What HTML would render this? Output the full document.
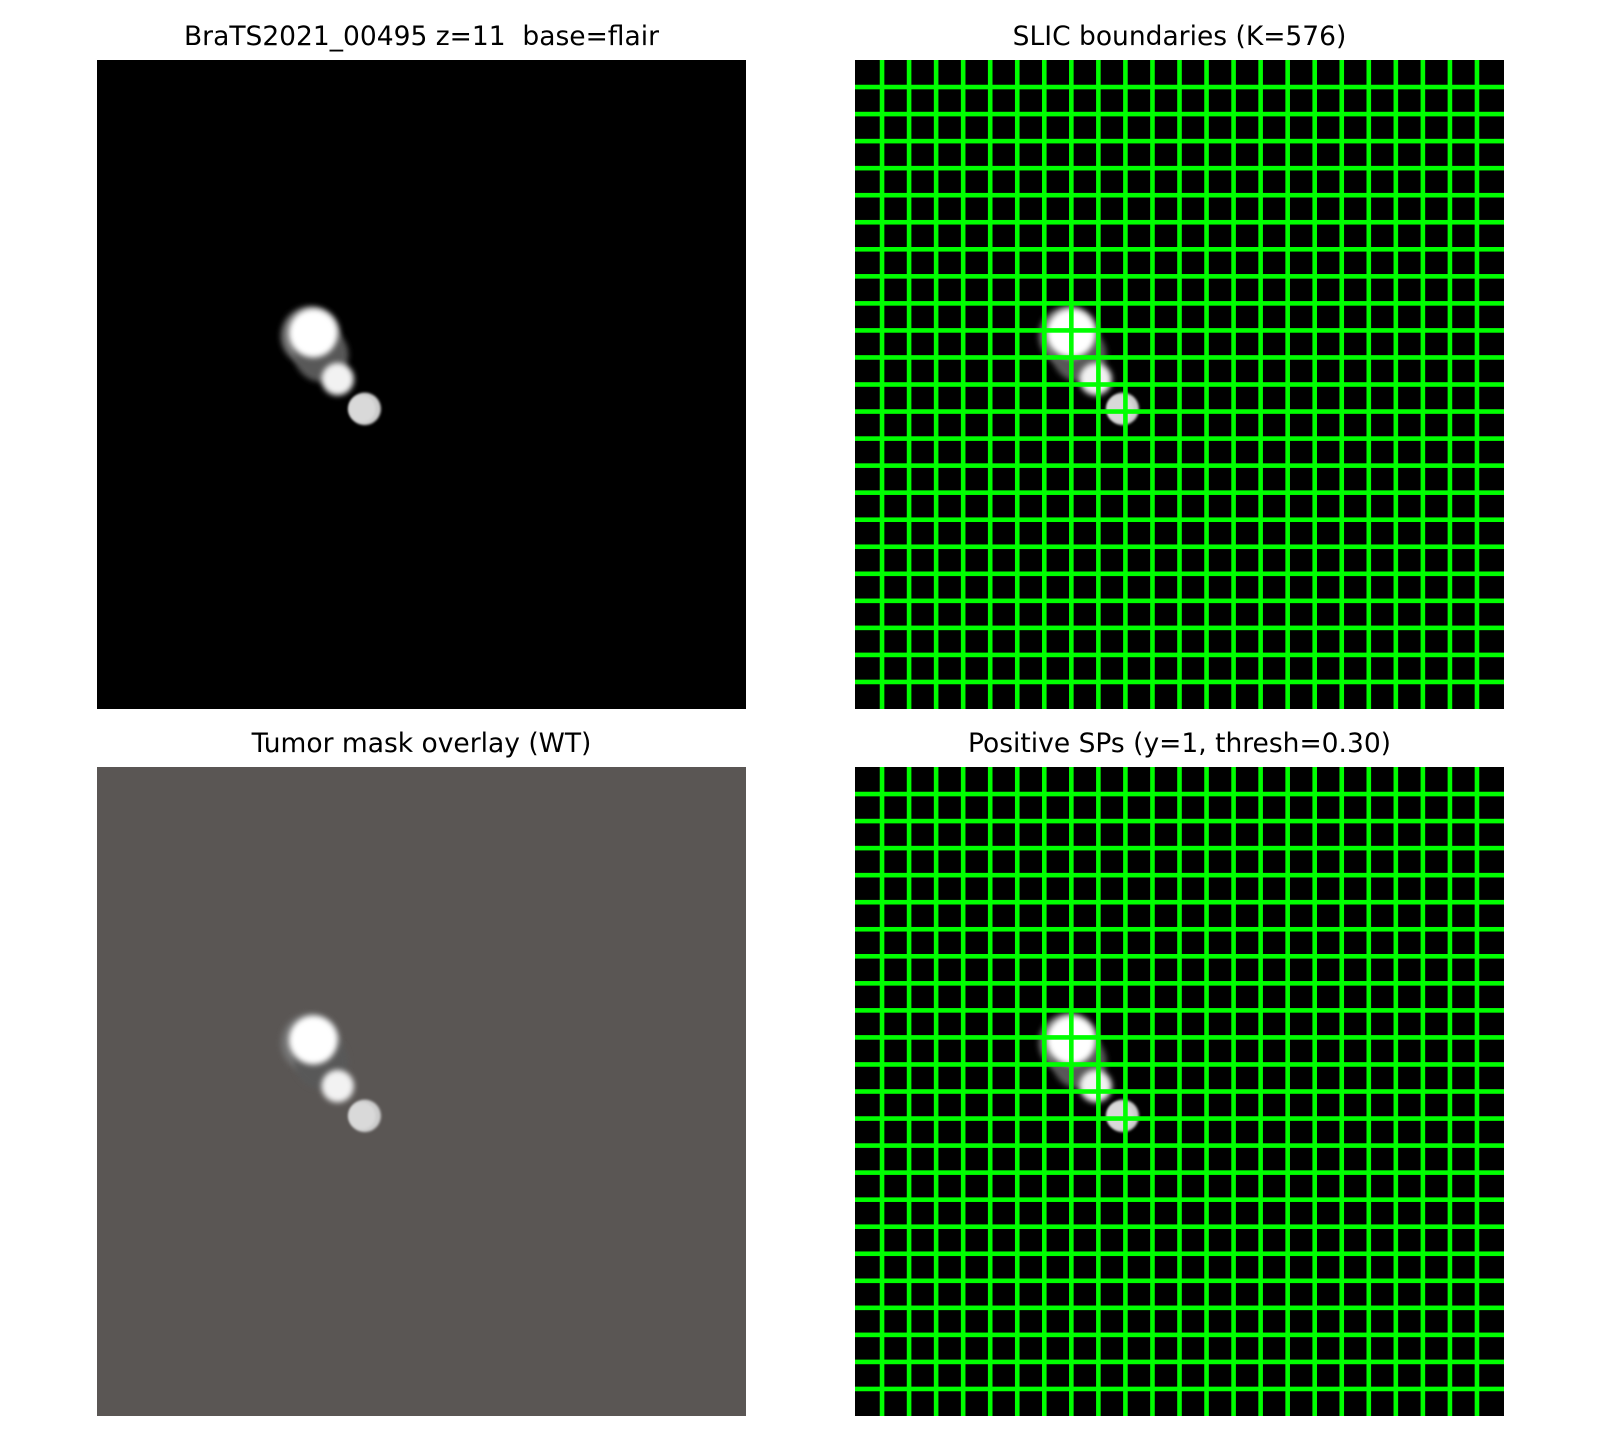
<!DOCTYPE html>
<html><head><meta charset="utf-8">
<style>
body{margin:0;background:#fff;width:1600px;height:1440px;overflow:hidden;font-family:"DejaVu Sans","Liberation Sans",sans-serif}
text{white-space:pre}
</style></head>
<body>
<svg id="fig" width="1600" height="1440" xmlns="http://www.w3.org/2000/svg">
<defs>
<filter id="bl" x="-50%" y="-50%" width="200%" height="200%"><feGaussianBlur stdDeviation="3"/></filter>
<filter id="bl2" x="-50%" y="-50%" width="200%" height="200%"><feGaussianBlur stdDeviation="1.2"/></filter>
</defs>
</svg>
<script>
const panelTitles = ["BraTS2021_00495 z=11  base=flair","SLIC boundaries (K=576)","Tumor mask overlay (WT)","Positive SPs (y=1, thresh=0.30)"];
const panelNames = ["flair-panel","slic-panel","mask-overlay-panel","positive-sp-panel"];
const panelBg = ["#000000","#000000","#5a5654","#000000"];
const gridShown = [false,true,false,true];
const gridCells = 24;
// blobs in image units (0..240): cx, cy, r, brightness
const blobX = [79, 83, 80, 89, 99, 98];
const blobY = [102, 109, 101, 118, 129, 129];
const blobR = [11, 10, 9, 6, 6, 5];
const blobL = [0.45, 0.35, 1.0, 0.95, 0.8, 0.85];
const blobBlur = [1, 1, 1, 1, 0, 0];

const NS="http://www.w3.org/2000/svg";
const svg=document.getElementById('fig');
const PX=[97,855], PY=[60,767], S=649, IMG=240;
function el(t,a,p){const e=document.createElementNS(NS,t);for(const k in a)e.setAttribute(k,a[k]);(p||svg).appendChild(e);return e;}
for(let i=0;i<4;i++){
  const x0=PX[i%2], y0=PY[Math.floor(i/2)];
  const g=el('g',{});
  
  
  const t=el('text',{x:x0+S/2,y:y0-15,'text-anchor':'middle','font-size':'26.5',fill:'#000'},g);
  t.textContent=panelTitles[i];
  
  
  const bg=el('rect',{x:x0,y:y0,width:S,height:S,fill:panelBg[i]},g);
  
  
  const sc=v=>v*S/IMG;
  for(let b=0;b<blobX.length;b++){
    const c=Math.round(255*blobL[b]);
    const e=el('circle',{cx:x0+sc(blobX[b]),cy:y0+sc(blobY[b]),r:sc(blobR[b]),fill:`rgb(${c},${c},${c})`,filter:blobBlur[b]?'url(#bl)':'url(#bl2)'},g);
    
    
  }
  if(gridShown[i]){
    const st=S/gridCells;
    for(let k=1;k<gridCells;k++){
      const v=el('rect',{x:x0+k*st-2.3,y:y0,width:4.6,height:S,fill:'#00ff00'},g);
      
      
      const h=el('rect',{x:x0,y:y0+k*st-2.3,width:S,height:4.6,fill:'#00ff00'},g);
      
      
    }
  }
}
</script>
</body></html>
